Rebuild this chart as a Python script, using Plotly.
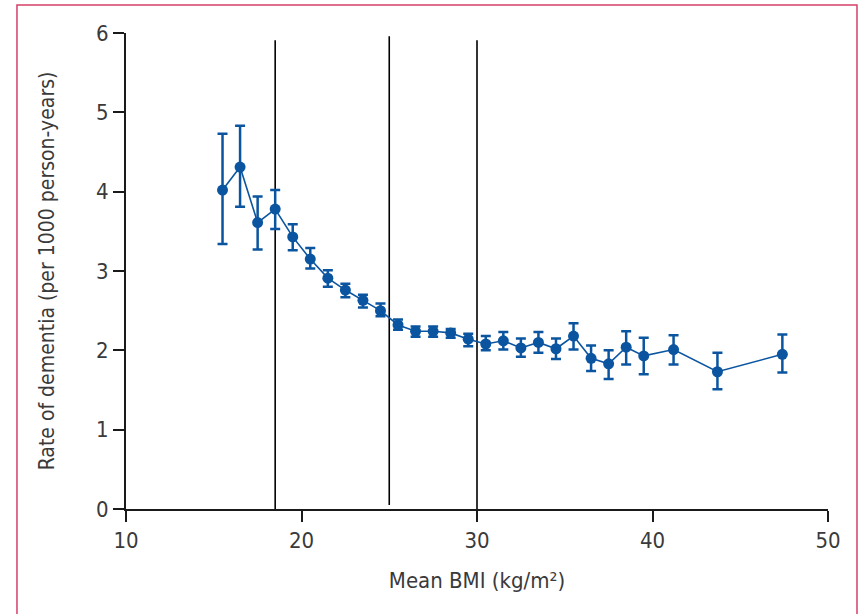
import plotly.graph_objects as go

bmi = [15.5, 16.5, 17.5, 18.5, 19.5, 20.5, 21.5, 22.5, 23.5, 24.5, 25.5, 26.5, 27.5, 28.5,
       29.5, 30.5, 31.5, 32.5, 33.5, 34.5, 35.5, 36.5, 37.5, 38.5, 39.5, 41.2, 43.7, 47.4]
rate = [4.02, 4.31, 3.61, 3.78, 3.43, 3.15, 2.91, 2.76, 2.63, 2.50, 2.32, 2.24, 2.24, 2.22,
        2.14, 2.08, 2.12, 2.03, 2.10, 2.02, 2.18, 1.90, 1.83, 2.04, 1.93, 2.01, 1.73, 1.95]
upper = [4.73, 4.83, 3.94, 4.02, 3.59, 3.29, 3.01, 2.84, 2.70, 2.59, 2.39, 2.30, 2.30, 2.27,
         2.21, 2.18, 2.23, 2.15, 2.23, 2.15, 2.34, 2.06, 2.00, 2.24, 2.16, 2.19, 1.97, 2.20]
lower = [3.34, 3.81, 3.27, 3.53, 3.26, 3.03, 2.80, 2.67, 2.54, 2.43, 2.26, 2.17, 2.17, 2.16,
         2.05, 2.00, 2.01, 1.92, 1.97, 1.89, 2.01, 1.74, 1.64, 1.82, 1.70, 1.82, 1.51, 1.72]

cutoffs = [18.5, 25, 30]
cutoff_tops = [5.91, 5.96, 5.91]
cutoff_bottoms = [0, 0.05, 0]

x_ticks = [10, 20, 30, 40, 50]
y_ticks = [0, 1, 2, 3, 4, 5, 6]

blue = "#0b55a0"
font_family = "DejaVu Sans Condensed, Liberation Sans Narrow, Roboto, sans-serif"

fig = go.Figure()
fig.add_trace(go.Scatter(
    x=bmi, y=rate, mode="lines+markers",
    line=dict(color=blue, width=1.6),
    marker=dict(color=blue, size=11),
    error_y=dict(type="data", symmetric=False,
                 array=[u - r for u, r in zip(upper, rate)],
                 arrayminus=[r - l for r, l in zip(rate, lower)],
                 color=blue, thickness=2.5, width=5),
    showlegend=False,
))

shapes = []
for c, t, b in zip(cutoffs, cutoff_tops, cutoff_bottoms):
    shapes.append(dict(type="line", xref="x", yref="y", x0=c, x1=c, y0=b, y1=t,
                       line=dict(color="black", width=1.6), layer="below"))
# pink frame around the figure
shapes.append(dict(type="rect", xref="paper", yref="paper",
                   x0=-0.1553, x1=1.0413, y0=-0.25, y1=1.0588,
                   line=dict(color="#d6406a", width=1.5)))

fig.update_layout(
    width=860, height=614,
    margin=dict(l=126, r=32, t=33, b=105),
    paper_bgcolor="white", plot_bgcolor="white",
    font=dict(family=font_family, color="#3a3a3a"),
    shapes=shapes,
    xaxis=dict(range=[10, 50], tickvals=x_ticks, showgrid=False, zeroline=False,
               showline=True, linecolor="#1a1a1a", linewidth=2,
               ticks="outside", ticklen=11, tickwidth=2, tickcolor="#1a1a1a",
               tickfont=dict(size=22, color="#3a3a3a"),
               title=dict(text="Mean BMI (kg/m²)", font=dict(size=22, color="#3a3a3a"), standoff=20)),
    yaxis=dict(range=[0, 6], tickvals=y_ticks, showgrid=False, zeroline=False,
               showline=True, linecolor="#1a1a1a", linewidth=2,
               ticks="outside", ticklen=11, tickwidth=2, tickcolor="#1a1a1a",
               tickfont=dict(size=22, color="#3a3a3a"),
               title=dict(text="Rate of dementia (per 1000 person-years)",
                          font=dict(size=21, color="#3a3a3a"), standoff=36)),
)

fig.write_html("out.html")
